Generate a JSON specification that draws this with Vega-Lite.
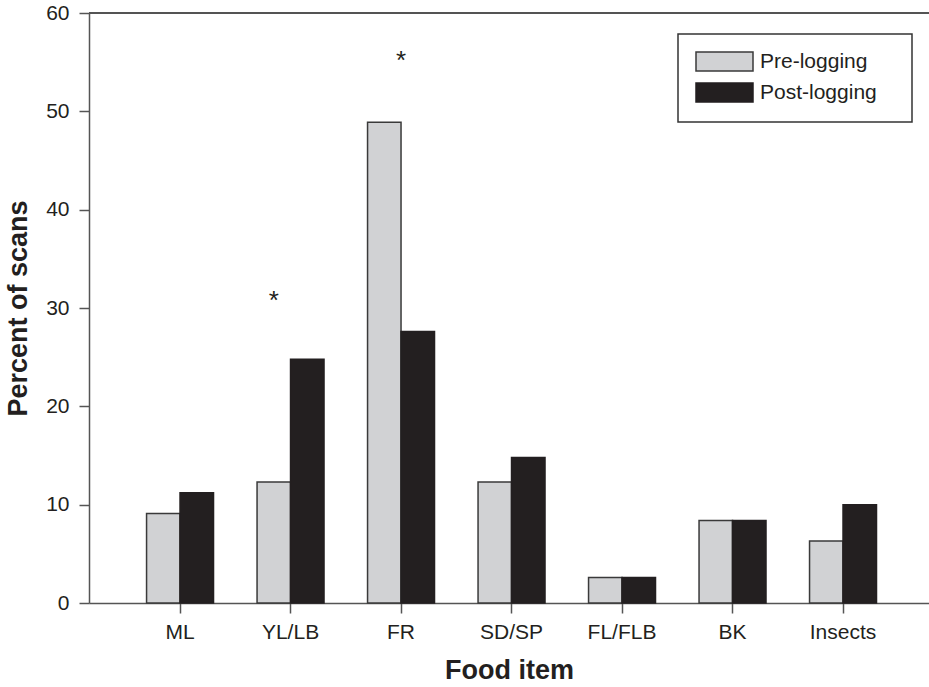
{
  "$schema": "https://vega.github.io/schema/vega-lite/v6.json",
  "autosize": {"type": "none"},
  "padding": {"left": 89, "top": 13, "right": 0, "bottom": 84},
  "width": 840,
  "height": 590,
  "background": "white",
  "config": {
    "view": {"stroke": null},
    "font": "Liberation Sans",
    "axis": {
      "domainColor": "#555555",
      "domainWidth": 1.5,
      "tickColor": "#555555",
      "tickWidth": 1.5,
      "tickSize": 10,
      "labelFont": "Liberation Sans",
      "labelFontSize": 21,
      "labelColor": "#231f20",
      "titleFont": "Liberation Sans",
      "titleFontSize": 27,
      "titleFontWeight": "bold",
      "titleColor": "#231f20",
      "grid": false
    }
  },
  "data": {
    "values": [
      {"item": "ML", "period": "Pre-logging", "percent": 9.1},
      {"item": "ML", "period": "Post-logging", "percent": 11.2},
      {"item": "YL/LB", "period": "Pre-logging", "percent": 12.3},
      {"item": "YL/LB", "period": "Post-logging", "percent": 24.8},
      {"item": "FR", "period": "Pre-logging", "percent": 48.9},
      {"item": "FR", "period": "Post-logging", "percent": 27.6},
      {"item": "SD/SP", "period": "Pre-logging", "percent": 12.3},
      {"item": "SD/SP", "period": "Post-logging", "percent": 14.8},
      {"item": "FL/FLB", "period": "Pre-logging", "percent": 2.6},
      {"item": "FL/FLB", "period": "Post-logging", "percent": 2.6},
      {"item": "BK", "period": "Pre-logging", "percent": 8.4},
      {"item": "BK", "period": "Post-logging", "percent": 8.4},
      {"item": "Insects", "period": "Pre-logging", "percent": 6.3},
      {"item": "Insects", "period": "Post-logging", "percent": 10.0}
    ]
  },
  "layer": [
    {
      "mark": {"type": "bar", "strokeWidth": 1.5},
      "encoding": {
        "x": {
          "field": "item",
          "type": "nominal",
          "sort": ["ML", "YL/LB", "FR", "SD/SP", "FL/FLB", "BK", "Insects"],
          "scale": {"paddingInner": 0.394, "paddingOuter": 0.498, "align": 0.523},
          "axis": {"title": "Food item", "labelAngle": 0, "labelPadding": 8, "titlePadding": 15}
        },
        "xOffset": {"field": "period", "type": "nominal", "sort": ["Pre-logging", "Post-logging"], "scale": {"paddingInner": 0, "paddingOuter": 0}},
        "y": {
          "field": "percent",
          "type": "quantitative",
          "scale": {"domain": [0, 60], "nice": false},
          "axis": {"title": "Percent of scans", "values": [0, 10, 20, 30, 40, 50, 60], "labelPadding": 10, "titlePadding": 13}
        },
        "color": {
          "field": "period",
          "type": "nominal",
          "sort": ["Pre-logging", "Post-logging"],
          "scale": {"domain": ["Pre-logging", "Post-logging"], "range": ["#d1d2d4", "#231f20"]},
          "legend": {
            "title": null,
            "orient": "none",
            "legendX": 589,
            "legendY": 21,
            "padding": 17,
            "strokeColor": "#333333",
            "fillColor": "white",
            "symbolType": "M-1,-1H5V1H-1Z",
            "symbolSize": 361,
            "symbolStrokeWidth": 1.5,
            "symbolOpacity": 1,
            "labelOffset": 44,
            "labelFontSize": 21,
            "labelColor": "#231f20",
            "labelFont": "Liberation Sans",
            "labelLimit": 400,
            "rowPadding": 6,
            "labelExpr": "datum.label + '\u00a0\u00a0\u00a0\u200b'",
            "encode": {"legend": {"update": {"strokeWidth": {"value": 1.5}}}}
          }
        },
        "stroke": {
          "field": "period",
          "type": "nominal",
          "sort": ["Pre-logging", "Post-logging"],
          "scale": {"domain": ["Pre-logging", "Post-logging"], "range": ["#3a3a3a", "#231f20"]},
          "legend": null
        }
      }
    },
    {
      "mark": {"type": "rule", "color": "#555555", "strokeWidth": 1.5},
      "encoding": {"y": {"datum": 60, "type": "quantitative"}}
    },
    {
      "data": {"values": [{"item": "YL/LB", "period": "Pre-logging", "y": 31.2, "sig": "*"}]},
      "mark": {"type": "text", "fontSize": 26, "baseline": "middle", "dy": 5, "color": "#231f20"},
      "encoding": {
        "x": {"field": "item", "type": "nominal", "sort": ["ML", "YL/LB", "FR", "SD/SP", "FL/FLB", "BK", "Insects"]},
        "xOffset": {"field": "period", "type": "nominal", "sort": ["Pre-logging", "Post-logging"]},
        "y": {"field": "y", "type": "quantitative"},
        "text": {"field": "sig"}
      }
    },
    {
      "data": {"values": [{"item": "FR", "y": 55.6, "sig": "*"}]},
      "mark": {"type": "text", "fontSize": 26, "baseline": "middle", "dy": 5, "color": "#231f20"},
      "encoding": {
        "x": {"field": "item", "type": "nominal", "sort": ["ML", "YL/LB", "FR", "SD/SP", "FL/FLB", "BK", "Insects"]},
        "y": {"field": "y", "type": "quantitative"},
        "text": {"field": "sig"}
      }
    }
  ]
}
